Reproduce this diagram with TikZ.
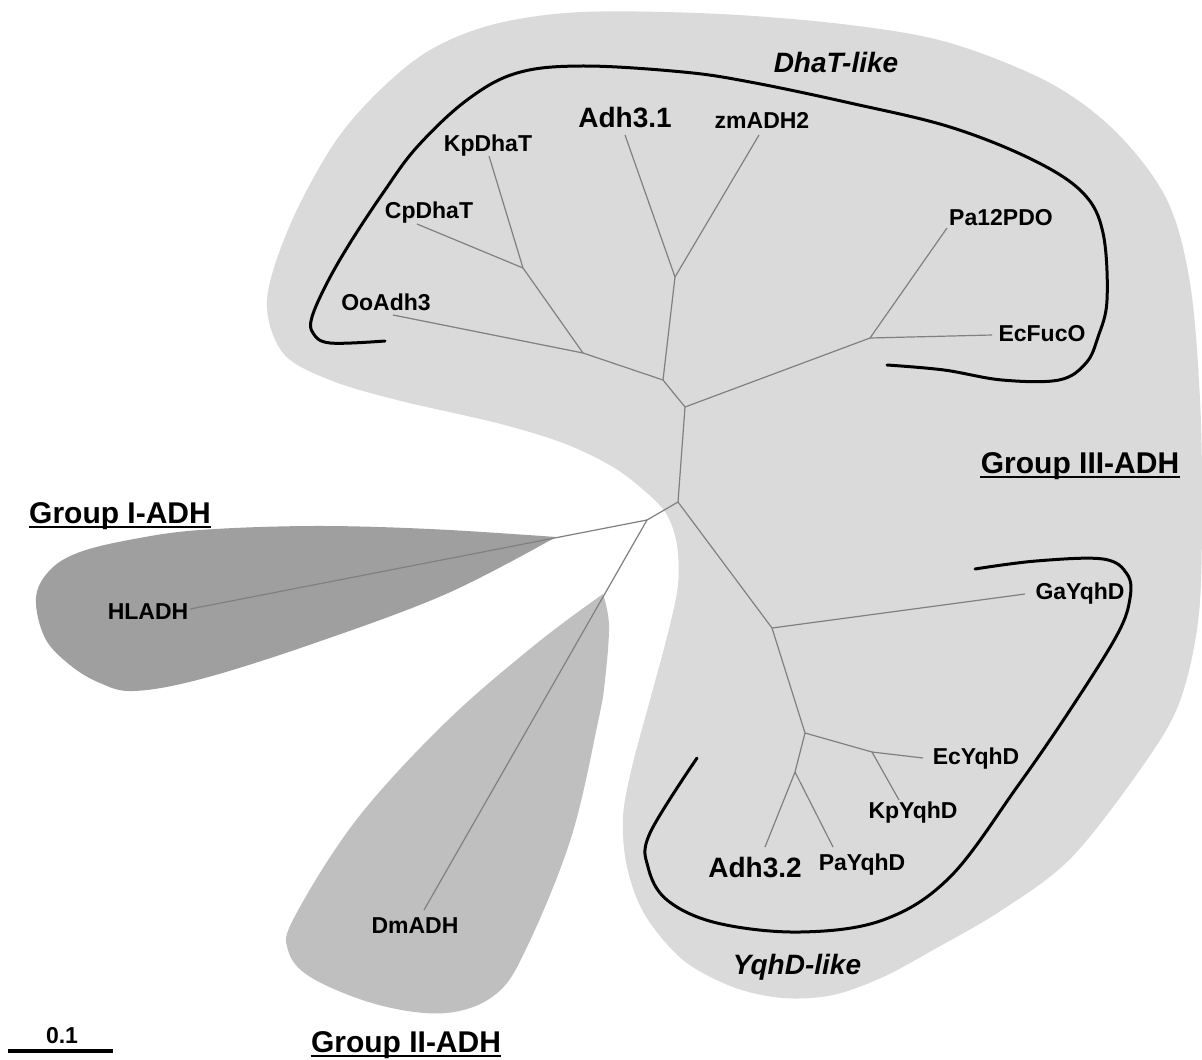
\documentclass[tikz,border=0pt]{standalone}
\usepackage{fontspec}
\setmainfont{Liberation Sans}
\definecolor{gOne}{gray}{0.625}
\definecolor{gTwo}{gray}{0.75}
\definecolor{gThree}{gray}{0.855}
\definecolor{brc}{gray}{0.5}
\tikzset{
  leaf/.style={font=\fontsize{11.5}{13}\selectfont\bfseries, inner sep=0pt},
  bigleaf/.style={font=\fontsize{14}{16}\selectfont\bfseries, inner sep=0pt},
  grp/.style={font=\fontsize{15}{17}\selectfont\bfseries, inner sep=0pt},
  clade/.style={font=\fontsize{14}{16}\selectfont\bfseries\itshape, inner sep=0pt},
  branch/.style={draw=brc, line width=0.6pt},
  bracket/.style={draw=black, line width=1.5pt, line cap=round, line join=round},
  uline/.style={draw=black, line width=1pt},
}
\begin{document}
\begin{tikzpicture}[x=0.5pt,y=-0.5pt]
\useasboundingbox (0,0) rectangle (1202,1059);
\fill[white] (0,0) rectangle (1202,1059);

% group regions
\fill[gThree] plot[smooth cycle, tension=0.55] coordinates {
 (267,300) (283,353) (330,380) (397,400) (497,423) (563,443) (613,467) (647,493)
 (667,515) (677,545) (678,585) (668,633) (650,700) (632,767) (623,817) (627,867)
 (645,915) (683,960) (733,987) (783,998) (833,995) (883,977) (933,950) (1002,910)
 (1070,859) (1137,774) (1178,706) (1198,622) (1202,520) (1200,400) (1190,283)
 (1167,200) (1117,133) (1050,83) (950,43) (850,25) (720,14) (583,12) (495,24)
 (430,50) (378,92) (333,145) (290,225)};
\fill[gOne] plot[smooth, tension=0.6] coordinates {
 (556,537) (430,529) (312,526) (200,530) (134,539) (80,552) (50,570) (36,598)
 (45,638) (70,665) (100,683) (134,691) (201,679) (312,644) (446,594) (556,537)} -- cycle;
\fill[gTwo] plot[smooth, tension=0.6] coordinates {
 (603,594) (609,625) (605,680) (598,722) (571,838) (527,947) (496,994) (446,1013)
 (379,1005) (312,978) (288,950) (295,916) (357,819) (446,722) (536,644) (603,594)} -- cycle;

% tree coordinates
\coordinate (n1) at (583,353);
\coordinate (n2) at (523,268);
\coordinate (n3) at (663,380);
\coordinate (n4) at (675,277);
\coordinate (n5) at (685,407);
\coordinate (n6) at (870,338);
\coordinate (n7) at (678,502);
\coordinate (n8) at (647,520);
\coordinate (n9) at (772,628);
\coordinate (n10) at (805,733);
\coordinate (n11) at (872,752);
\coordinate (n12) at (795,772);
\coordinate (eOo) at (393,315);
\coordinate (eCp) at (417,224);
\coordinate (eKp) at (489,156);
\coordinate (eAdhA) at (625,135);
\coordinate (eZm) at (759,135);
\coordinate (ePa12) at (947,228);
\coordinate (eFuc) at (992,335);
\coordinate (eHL) at (190,609);
\coordinate (eDm) at (424,910);
\coordinate (eGa) at (1025,594);
\coordinate (eEc) at (923,758);
\coordinate (eKpY) at (899,800);
\coordinate (eAdhB) at (765,847);
\coordinate (ePaY) at (833,847);

% branches
\draw[branch] (n1) -- (eOo);
\draw[branch] (n1) -- (n2);
\draw[branch] (n2) -- (eCp);
\draw[branch] (n2) -- (eKp);
\draw[branch] (n3) -- (n1);
\draw[branch] (n3) -- (n4);
\draw[branch] (n4) -- (eAdhA);
\draw[branch] (n4) -- (eZm);
\draw[branch] (n3) -- (n5);
\draw[branch] (n5) -- (n6);
\draw[branch] (n6) -- (ePa12);
\draw[branch] (n6) -- (eFuc);
\draw[branch] (n5) -- (n7);
\draw[branch] (n7) -- (n8);
\draw[branch] (n8) -- (eHL);
\draw[branch] (n8) -- (eDm);
\draw[branch] (n7) -- (n9);
\draw[branch] (n9) -- (eGa);
\draw[branch] (n9) -- (n10);
\draw[branch] (n10) -- (n11);
\draw[branch] (n11) -- (eEc);
\draw[branch] (n11) -- (eKpY);
\draw[branch] (n10) -- (n12);
\draw[branch] (n12) -- (eAdhB);
\draw[branch] (n12) -- (ePaY);

% clade brackets
\draw[bracket] plot[smooth, tension=0.6] coordinates {
 (385,341) (330,343) (313,333) (312,317) (327,283) (350,243) (383,193) (417,147)
 (467,100) (517,73) (583,66) (683,72) (750,82) (850,103) (950,127) (1033,160)
 (1083,193) (1103,233) (1107,300) (1098,337) (1086,363) (1059,380) (1002,380)
 (944,370) (887,365)};
\draw[bracket] plot[smooth, tension=0.6] coordinates {
 (697,758) (650,833) (648,867) (667,900) (717,923) (800,932) (883,920) (950,877)
 (1017,787) (1070,710) (1117,635) (1130,598) (1127,574) (1103,559) (1036,561) (975,569)};

% labels
\node[clade] (tDhaT) at (836,62) {DhaT-like};
\node[clade] (tYqhD) at (797,967) {YqhD-like};
\node[bigleaf] (tAdhA) at (625,118) {Adh3.1};
\node[leaf] (tZm) at (762,120) {zmADH2};
\node[leaf] (tKp) at (488,146) {KpDhaT};
\node[leaf] (tCp) at (429,213) {CpDhaT};
\node[leaf] (tOo) at (386,302) {OoAdh3};
\node[leaf] (tPa12) at (1001,218) {Pa12PDO};
\node[leaf] (tFuc) at (1042,334) {EcFucO};
\node[leaf] (tHL) at (148,612) {HLADH};
\node[leaf] (tDm) at (415,926) {DmADH};
\node[leaf] (tGa) at (1080,594) {GaYqhD};
\node[leaf] (tEc) at (976,759) {EcYqhD};
\node[leaf] (tKpY) at (913,813) {KpYqhD};
\node[bigleaf] (tAdhB) at (755,867) {Adh3.2};
\node[leaf] (tPaY) at (862,865) {PaYqhD};
\node[grp, anchor=base] (gIII) at (1080,473) {Group III-ADH};
\node[grp, anchor=base] (gI) at (120,523) {Group I-ADH};
\node[grp, anchor=base] (gII) at (406,1052) {Group II-ADH};
\draw[uline] ([yshift=-2pt]gIII.base west) -- ([yshift=-2pt]gIII.base east);
\draw[uline] ([yshift=-2pt]gI.base west) -- ([yshift=-2pt]gI.base east);
\draw[uline] ([yshift=-2pt]gII.base west) -- ([yshift=-2pt]gII.base east);

% scale bar
\node[leaf] (tScale) at (62,1036) {0.1};
\coordinate (sA) at (8,1051);
\coordinate (sB) at (113,1051);
\draw[line width=2pt] (sA) -- (sB);
\end{tikzpicture}
\end{document}
